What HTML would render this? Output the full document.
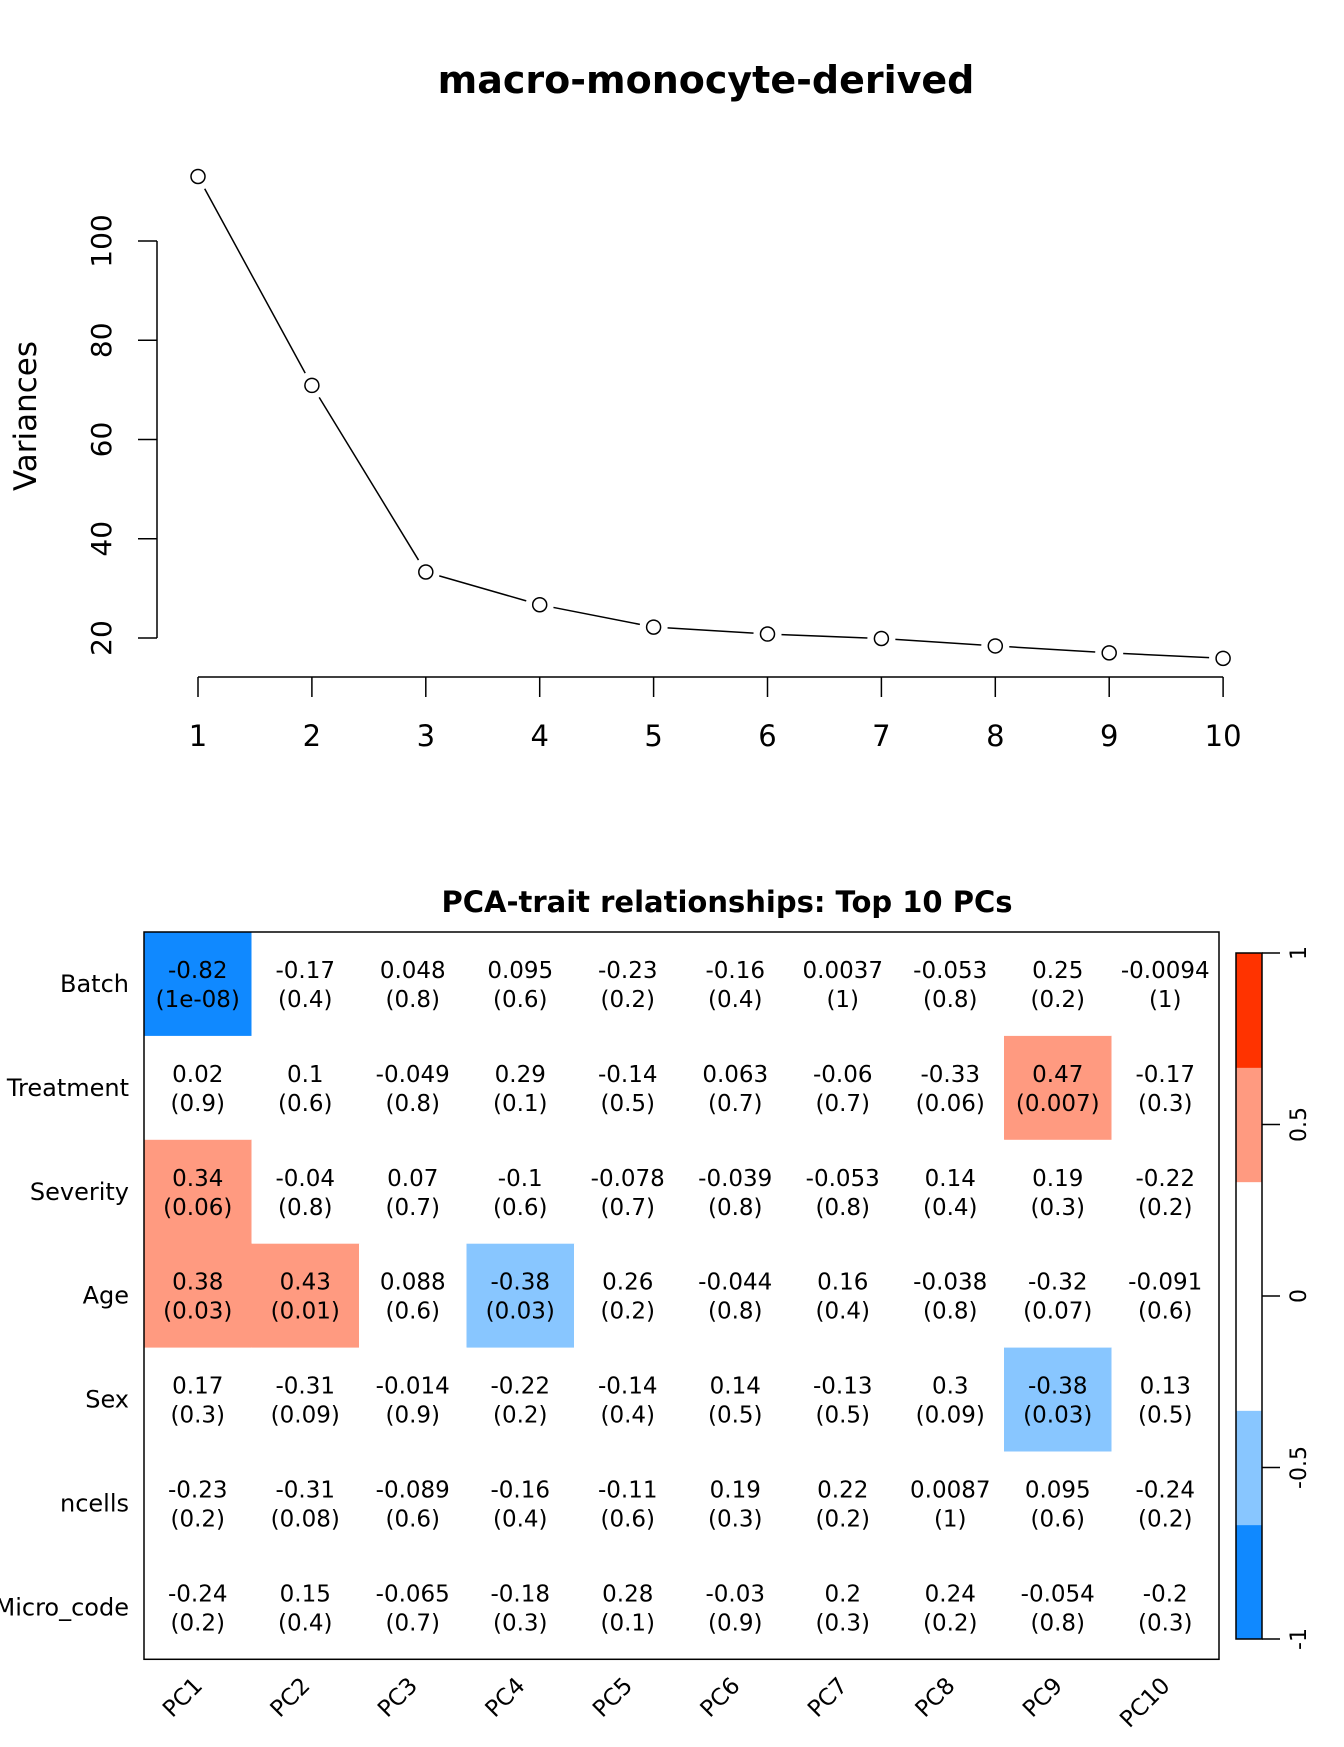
<!DOCTYPE html>
<html><head><meta charset="utf-8"><style>
html,body{margin:0;padding:0;background:#fff;}
svg{display:block;font-family:"DejaVu Sans","Liberation Sans",sans-serif;}
</style></head><body>
<svg id="svg" width="1344" height="1747" viewBox="0 0 1344 1747" xmlns="http://www.w3.org/2000/svg">
<text x="706" y="93" font-size="38" font-weight="bold" text-anchor="middle">macro-monocyte-derived</text>
<text transform="translate(36,416) rotate(-90)" font-size="31" text-anchor="middle">Variances</text>
<g id="scree"></g>
<text x="727" y="912" font-size="29" font-weight="bold" text-anchor="middle">PCA-trait relationships: Top 10 PCs</text>
<g id="heat"></g>
<g id="cbar"></g>
</svg>
<script>
const pcs=[1,2,3,4,5,6,7,8,9,10];
const variances=[113,70.9,33.3,26.7,22.2,20.8,19.9,18.4,17,15.9];
const yTicks=[20,40,60,80,100];
const traits=["Batch","Treatment","Severity","Age","Sex","ncells","Micro_code"];
const pcLabels=["PC1","PC2","PC3","PC4","PC5","PC6","PC7","PC8","PC9","PC10"];
const corr=[
["-0.82","-0.17","0.048","0.095","-0.23","-0.16","0.0037","-0.053","0.25","-0.0094"],
["0.02","0.1","-0.049","0.29","-0.14","0.063","-0.06","-0.33","0.47","-0.17"],
["0.34","-0.04","0.07","-0.1","-0.078","-0.039","-0.053","0.14","0.19","-0.22"],
["0.38","0.43","0.088","-0.38","0.26","-0.044","0.16","-0.038","-0.32","-0.091"],
["0.17","-0.31","-0.014","-0.22","-0.14","0.14","-0.13","0.3","-0.38","0.13"],
["-0.23","-0.31","-0.089","-0.16","-0.11","0.19","0.22","0.0087","0.095","-0.24"],
["-0.24","0.15","-0.065","-0.18","0.28","-0.03","0.2","0.24","-0.054","-0.2"]];
const pvals=[
["1e-08","0.4","0.8","0.6","0.2","0.4","1","0.8","0.2","1"],
["0.9","0.6","0.8","0.1","0.5","0.7","0.7","0.06","0.007","0.3"],
["0.06","0.8","0.7","0.6","0.7","0.8","0.8","0.4","0.3","0.2"],
["0.03","0.01","0.6","0.03","0.2","0.8","0.4","0.8","0.07","0.6"],
["0.3","0.09","0.9","0.2","0.4","0.5","0.5","0.09","0.03","0.5"],
["0.2","0.08","0.6","0.4","0.6","0.3","0.2","1","0.6","0.2"],
["0.2","0.4","0.7","0.3","0.1","0.9","0.3","0.2","0.8","0.3"]];
const cbarTicks=[-1,-0.5,0,0.5,1];
const binColors=["#1089FF","#88C6FF","#FFFFFF","#FFFFFF","#FF9A80","#FF3300"];

const NS="http://www.w3.org/2000/svg";
function mk(tag,attrs,parent,txt){const e=document.createElementNS(NS,tag);for(const k in attrs)e.setAttribute(k,attrs[k]);if(txt!==undefined)e.textContent=txt;parent.appendChild(e);return e;}
const sx=v=>198+(v-1)*113.9;
const sy=v=>638-(v-20)*4.9625;
const g=document.getElementById('scree');
let e=mk('line',{x1:157,y1:sy(20),x2:157,y2:sy(100),stroke:'#000','stroke-width':1.5},g);

yTicks.forEach(t=>{
 let l=mk('line',{x1:138,x2:157,y1:sy(t),y2:sy(t),stroke:'#000','stroke-width':1.5},g);
 
 let tx=mk('text',{transform:`translate(111,${sy(t)}) rotate(-90)`,'font-size':28,'text-anchor':'middle'},g,t);
 
});
e=mk('line',{x1:sx(1),x2:sx(10),y1:677,y2:677,stroke:'#000','stroke-width':1.5},g);

pcs.forEach(p=>{
 let l=mk('line',{x1:sx(p),x2:sx(p),y1:677,y2:697,stroke:'#000','stroke-width':1.5},g);
 
 let tx=mk('text',{x:sx(p),y:746,'font-size':29,'text-anchor':'middle'},g,p);
 
});
for(let i=0;i<pcs.length-1;i++){
 const x1=sx(pcs[i]),y1=sy(variances[i]),x2=sx(pcs[i+1]),y2=sy(variances[i+1]);
 const d=Math.hypot(x2-x1,y2-y1),gap=14;
 if(d>2*gap){const ux=(x2-x1)/d,uy=(y2-y1)/d;
 let l=mk('line',{x1:x1+ux*gap,y1:y1+uy*gap,x2:x2-ux*gap,y2:y2-uy*gap,stroke:'#000','stroke-width':1.5},g);
 }
}
pcs.forEach((p,i)=>{
 let c=mk('circle',{cx:sx(p),cy:sy(variances[i]),r:7,fill:'none',stroke:'#000','stroke-width':1.5},g);
 
});
const hx0=144,hy0=932,cw=107.5,ch=103.9;
function colorOf(v){let b=Math.floor((v+1)/(2/6));b=Math.max(0,Math.min(5,b));return binColors[b];}
const h=document.getElementById('heat');
traits.forEach((t,r)=>{
 let tx=mk('text',{x:129,y:hy0+r*ch+ch/2+8,'font-size':24,'text-anchor':'end'},h,t);
 
 pcLabels.forEach((p,c)=>{
  const v=parseFloat(corr[r][c]);
  const x=hx0+c*cw,y=hy0+r*ch;
  let rc=mk('rect',{x:x,y:y,width:cw+0.5,height:ch+0.5,fill:colorOf(v)},h);
  
  let t1=mk('text',{x:x+cw/2,y:y+ch/2-6,'font-size':23,'text-anchor':'middle'},h,corr[r][c]);
  
  let t2=mk('text',{x:x+cw/2,y:y+ch/2+23,'font-size':23,'text-anchor':'middle'},h,'('+pvals[r][c]+')');
  
 });
});
e=mk('rect',{x:hx0,y:hy0,width:cw*10,height:ch*7,fill:'none',stroke:'#000','stroke-width':1.5},h);

pcLabels.forEach((p,c)=>{
 const x=hx0+c*cw+cw/2+6,y=1687;
 let tx=mk('text',{transform:`translate(${x},${y}) rotate(-45)`,'font-size':23,'text-anchor':'end'},h,p);
 
});
const cb=document.getElementById('cbar');
const cbx=1236,cbw=26,cbTop=953,cbBot=1639;
const cy=v=>cbBot-(v+1)/2*(cbBot-cbTop);
binColors.forEach((col,i)=>{
 const v0=-1+i*(2/6),v1=v0+2/6;
 let rc=mk('rect',{x:cbx,y:cy(v1),width:cbw,height:cy(v0)-cy(v1)+0.5,fill:col},cb);
 
});
e=mk('rect',{x:cbx,y:cbTop,width:cbw,height:cbBot-cbTop,fill:'none',stroke:'#000','stroke-width':1.5},cb);

cbarTicks.forEach(t=>{
 let l=mk('line',{x1:cbx+cbw,x2:1280,y1:cy(t),y2:cy(t),stroke:'#000','stroke-width':1.5},cb);
 
 let tx=mk('text',{transform:`translate(1306,${cy(t)}) rotate(-90)`,'font-size':22,'text-anchor':'middle'},cb,t);
 
});
</script>
</body></html>
